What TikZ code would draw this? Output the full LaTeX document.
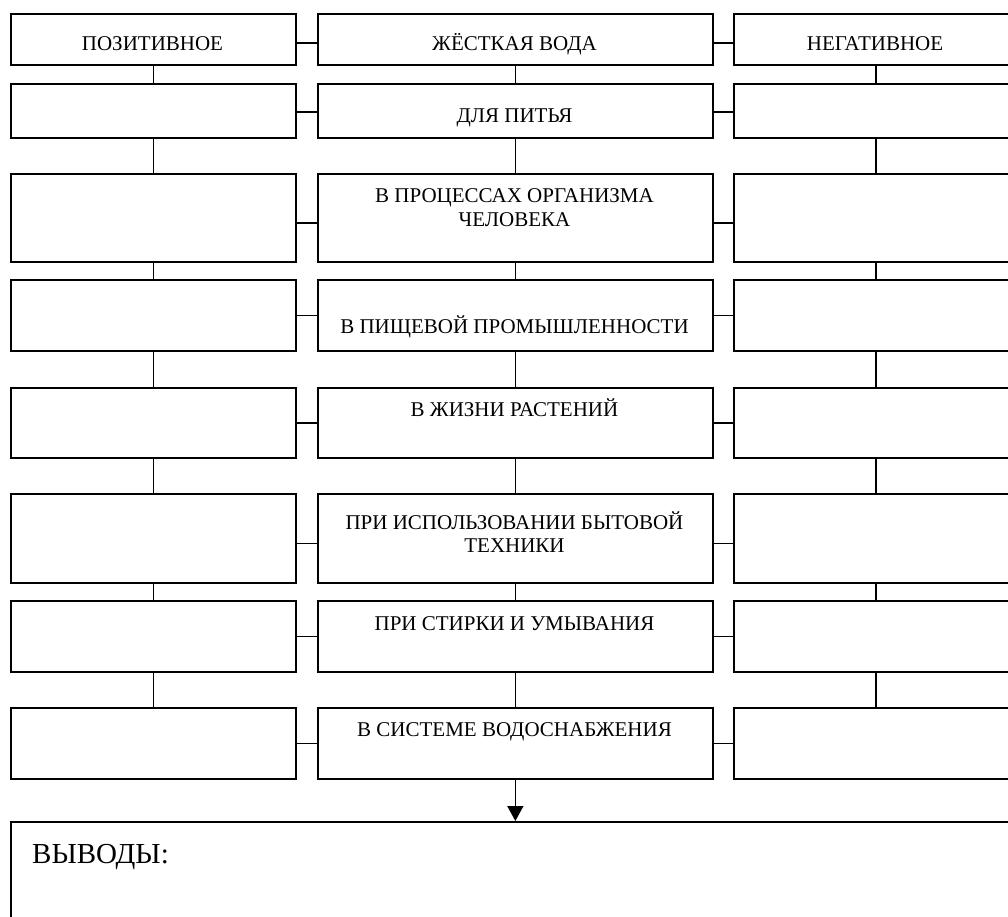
\documentclass[tikz,border=0pt]{standalone}
\usepackage{fontspec}
\setmainfont{Liberation Serif}
\usetikzlibrary{arrows.meta}
\begin{document}
\begin{tikzpicture}[x=1pt,y=-1pt,
  box/.style={draw, line width=1.7pt, fill=white, inner sep=0pt, anchor=north west},
  txt/.style={anchor=base, inner sep=0pt, align=center, font=\fontsize{21}{23.5}\selectfont},
  link/.style={line width=1.7pt}]
\useasboundingbox (0,0) rectangle (1008,917);
\clip (0,0) rectangle (1008,917);
% boxes: row / top / bottom
\foreach \i/\t/\b in {1/13/64, 2/83/137, 3/173/261, 4/279/350, 5/387/457, 6/493/582, 7/600/671, 8/707/778}{
  \pgfmathsetmacro\h{\b-\t}
  \node[box, minimum width=285pt, minimum height=\h pt] (L\i) at (10,\t) {};
  \node[box, minimum width=395pt, minimum height=\h pt] (M\i) at (317,\t) {};
  \node[box, minimum width=284pt, minimum height=\h pt] (R\i) at (733,\t) {};
}
% vertical connectors
\foreach \i [evaluate=\i as \j using int(\i+1)] in {1,...,7}{
  \draw[link] (L\i.south) -- (L\j.north);
  \draw[link] (M\i.south) -- (M\j.north);
  \draw[link] (R\i.south) -- (R\j.north);
}
% horizontal connectors
\foreach \i/\o in {1/4, 2/1, 3/5, 4/0, 5/0, 6/5, 7/0, 8/0}{
  \draw[link] ([yshift=-\o pt]L\i.east) -- ([yshift=-\o pt]M\i.west);
  \draw[link] ([yshift=-\o pt]M\i.east) -- ([yshift=-\o pt]R\i.west);
}
% texts
\node[txt] (tL1) at (152.5,51) {ПОЗИТИВНОЕ};
\node[txt] (tM1) at (514.5,51) {ЖЁСТКАЯ ВОДА};
\node[txt] (tR1) at (875,51) {НЕГАТИВНОЕ};
\node[txt] (tM2) at (514.5,123) {ДЛЯ ПИТЬЯ};
\node[txt] (tM3) at (514.5,203) {\begin{tabular}[t]{@{}c@{}}В ПРОЦЕССАХ ОРГАНИЗМА\\ЧЕЛОВЕКА\end{tabular}};
\node[txt] (tM4) at (514.5,333) {В ПИЩЕВОЙ ПРОМЫШЛЕННОСТИ};
\node[txt] (tM5) at (514.5,416) {В ЖИЗНИ РАСТЕНИЙ};
\node[txt] (tM6) at (514.5,529) {\begin{tabular}[t]{@{}c@{}}ПРИ ИСПОЛЬЗОВАНИИ БЫТОВОЙ\\ТЕХНИКИ\end{tabular}};
\node[txt] (tM7) at (514.5,630) {ПРИ СТИРКИ И УМЫВАНИЯ};
\node[txt] (tM8) at (514.5,736) {В СИСТЕМЕ ВОДОСНАБЖЕНИЯ};
% conclusions box
\node[box, minimum width=1010pt, minimum height=200pt] (B) at (10,821) {};
\node[anchor=base west, inner sep=0pt, font=\fontsize{29}{33}\selectfont] (tB) at (32,863) {ВЫВОДЫ:};
\draw[line width=1.4pt, -{Triangle[length=15pt,width=16pt]}] (M8.south) -- (M8.south |- B.north);
\end{tikzpicture}
\end{document}
